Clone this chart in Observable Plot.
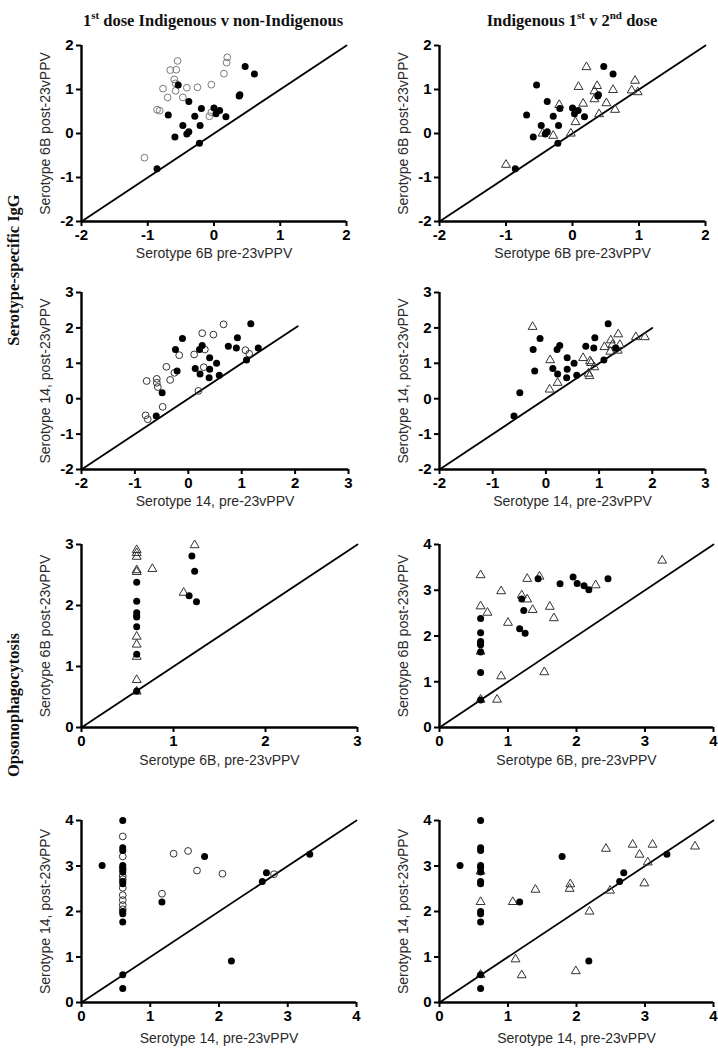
<!DOCTYPE html>
<html>
<head>
<meta charset="utf-8">
<script src="https://cdn.jsdelivr.net/npm/d3@7"></script>
<script src="https://cdn.jsdelivr.net/npm/@observablehq/plot@0.6"></script>
<style>
  html, body { margin: 0; padding: 0; background: #fff; }
  body { width: 718px; height: 1049px; position: relative; overflow: hidden; font-family: Arial, "Liberation Sans", sans-serif; }
  .title { position: absolute; top: 9px; transform: translateX(-50%); white-space: nowrap;
           font-family: "Liberation Serif", "Times New Roman", serif; font-weight: bold; font-size: 16.5px; color: #111; }
  .title sup { font-size: 11px; }
  .side { position: absolute; left: 14px; white-space: nowrap; transform: translate(-50%, -50%) rotate(-90deg);
          font-family: "Liberation Serif", "Times New Roman", serif; font-weight: bold; font-size: 16.5px; color: #111; }
</style>
</head>
<body>
<div class="title" style="left:213px">1<sup>st</sup> dose Indigenous v non-Indigenous</div>
<div class="title" style="left:572px">Indigenous 1<sup>st</sup> v 2<sup>nd</sup> dose</div>
<div class="side" style="top:270px">Serotype-specific IgG</div>
<div class="side" style="top:705px">Opsonophagocytosis</div>
<script>
// ---------- Data (log-scale values) ----------
// Serotype 6B IgG
const ind1_6B_IgG_pre  = [0.47, 0.61, -0.54, -0.38, -0.69, 0.38, 0.39, 0.00, -0.19, 0.085, 0.03, 0.18, -0.29, -0.47, -0.21, -0.59, -0.38, -0.41, -0.22, -0.86];
const ind1_6B_IgG_post = [1.52, 1.35, 1.10, 0.73, 0.42, 0.85, 0.88, 0.58, 0.57, 0.52, 0.45, 0.38, 0.39, 0.18, 0.18, -0.08, 0.04, -0.01, -0.22, -0.80];
const non_6B_IgG_pre   = [-0.55, 0.20, 0.19, -0.66, -0.57, 0.15, -0.60, -0.58, -0.58, -0.77, -0.41, -0.25, -0.04, -0.70, -0.47, -0.86, -0.82, -0.07, -0.04, -1.05];
const non_6B_IgG_post  = [1.65, 1.73, 1.61, 1.44, 1.45, 1.36, 1.23, 1.14, 0.97, 1.02, 1.04, 1.05, 1.11, 0.82, 0.82, 0.54, 0.52, 0.39, 0.48, -0.55];
const ind2_6B_IgG_pre  = [0.21, 0.94, 0.09, 0.37, 0.33, 0.61, 0.89, 0.98, 0.33, 0.51, 0.16, -0.20, 0.64, 0.40, 0.045, -0.45, -0.29, -0.025, -1.00];
const ind2_6B_IgG_post = [1.51, 1.20, 1.06, 1.08, 0.96, 0.99, 0.98, 0.94, 0.78, 0.69, 0.68, 0.65, 0.54, 0.44, 0.26, 0.00, -0.05, 0.00, -0.71];

// Serotype 14 IgG
const ind1_14_IgG_pre  = [1.17, -0.11, 0.92, 0.26, -0.24, 0.21, 0.75, 0.90, 1.31, 0.40, 0.53, 0.13, 0.40, -0.21, 0.22, 0.58, 0.39, 1.09, -0.49, -0.60];
const ind1_14_IgG_post = [2.12, 1.70, 1.72, 1.50, 1.39, 1.39, 1.48, 1.43, 1.43, 1.16, 1.00, 0.85, 0.83, 0.78, 0.70, 0.66, 0.59, 1.09, 0.17, -0.49];
const non_14_IgG_pre   = [0.66, 0.26, 0.47, 0.31, 0.11, -0.17, 1.07, 1.14, -0.41, 0.29, -0.26, -0.34, -0.78, -0.59, -0.59, -0.57, -0.48, 0.19, -0.80, -0.76];
const non_14_IgG_post  = [2.10, 1.85, 1.81, 1.39, 1.25, 1.23, 1.37, 1.27, 0.90, 0.89, 0.73, 0.53, 0.50, 0.56, 0.45, 0.33, -0.23, 0.22, -0.47, -0.58];
const ind2_14_IgG_pre  = [-0.25, 0.08, 0.07, 0.70, 0.83, 0.85, 0.80, 0.82, 0.91, 0.22, 1.10, 1.22, 1.36, 1.25, 1.39, 1.21, 1.35, 1.69, 1.86];
const ind2_14_IgG_post = [2.03, 1.09, 0.26, 1.15, 1.06, 1.01, 0.71, 0.64, 0.89, 0.45, 1.46, 1.65, 1.82, 1.52, 1.52, 1.33, 1.36, 1.74, 1.74];

// Serotype 6B opsonophagocytosis
const ind1_6B_OPA_pre  = [0.6, 0.6, 0.6, 0.6, 0.6, 0.6, 0.6, 0.6, 1.20, 1.23, 1.17, 1.25, 1.44, 1.76, 1.95, 2.01, 2.11, 2.18, 2.46];
const ind1_6B_OPA_post = [2.38, 2.07, 1.88, 1.83, 1.81, 1.65, 1.20, 0.60, 2.81, 2.56, 2.16, 2.06, 3.25, 3.14, 3.29, 3.15, 3.10, 3.01, 3.25];
const non_6B_OPA_pre   = [0.6, 0.6, 0.6, 0.6, 0.6, 0.77, 1.23, 1.11, 0.6, 0.6, 0.6, 0.6, 0.6];
const non_6B_OPA_post  = [2.91, 2.86, 2.80, 2.58, 2.55, 2.60, 2.99, 2.21, 1.49, 1.36, 1.16, 0.78, 0.59];
const ind2_6B_OPA_pre  = [0.6, 0.6, 0.70, 0.90, 1.00, 1.20, 1.28, 1.28, 1.46, 1.36, 1.61, 1.67, 2.28, 3.25, 0.90, 1.53, 0.84, 0.6, 0.6];
const ind2_6B_OPA_post = [3.33, 2.65, 2.51, 2.98, 2.29, 2.89, 3.25, 2.80, 3.30, 2.57, 2.64, 2.39, 3.11, 3.65, 1.12, 1.21, 0.61, 0.61, 1.66];

// Serotype 14 opsonophagocytosis
const ind1_14_OPA_pre  = [0.6, 0.6, 0.6, 0.6, 0.6, 0.6, 0.6, 0.6, 0.6, 0.6, 0.6, 0.6, 0.6, 0.30, 1.17, 1.79, 2.18, 2.63, 2.69, 3.32];
const ind1_14_OPA_post = [4.00, 3.40, 3.34, 3.01, 2.96, 2.87, 2.66, 2.61, 2.00, 1.95, 1.77, 0.61, 0.31, 3.01, 2.21, 3.21, 0.91, 2.66, 2.85, 3.26];
const non_14_OPA_pre   = [0.6, 0.6, 0.6, 0.6, 0.6, 0.6, 0.6, 0.6, 0.6, 0.6, 1.17, 1.34, 1.55, 1.68, 2.05, 2.80];
const non_14_OPA_post  = [3.65, 3.21, 2.92, 2.78, 2.71, 2.52, 2.36, 2.25, 2.14, 2.05, 2.39, 3.27, 3.33, 2.90, 2.83, 2.82];
const ind2_14_OPA_pre  = [0.6, 0.6, 0.6, 1.07, 1.11, 1.20, 1.40, 1.91, 1.90, 2.19, 1.99, 2.43, 2.49, 2.82, 2.92, 3.11, 3.04, 2.99, 3.73];
const ind2_14_OPA_post = [2.88, 2.21, 0.61, 2.21, 0.95, 0.60, 2.48, 2.60, 2.50, 2.00, 0.69, 3.38, 2.46, 3.47, 3.25, 3.47, 3.08, 2.62, 3.43];

// Axis ticks and identity-line extents
const ticksIgG6B = [-2, -1, 0, 1, 2];
const ticksIgG14 = [-2, -1, 0, 1, 2, 3];
const ticksOPA3  = [0, 1, 2, 3];
const ticksOPA4  = [0, 1, 2, 3, 4];
const diagIgG6B  = [-2, 2];
const diagIgG14L = [-2, 2.05];
const diagIgG14R = [-2, 2];
const diagOPA3   = [0, 3];
const diagOPA4   = [0, 4];

// ---------- Drawing ----------
const pts = (xs, ys) => xs.map((x, i) => ({x, y: ys[i]}));
const FILLED = {symbol: "circle", r: 3.5, fill: "#000", stroke: "none", sw: 0};
const OPEN_LIGHT = {symbol: "circle", r: 3.4, fill: "none", stroke: "#7a7a7a", sw: 1};
const OPEN_DARK = {symbol: "circle", r: 3.4, fill: "none", stroke: "#333", sw: 1};
const TRI = {symbol: "triangle", r: 3.3, fill: "none", stroke: "#333", sw: 1};

function panel(cfg) {
  const {left, top, w, h, xDomain, yDomain, xTicks, yTicks, diag, series, xLabel, yLabel, xlOff} = cfg;
  const ml = 60, mr = 14, mt = 14, mb = 46;
  const marks = [
    Plot.line(diag.map(v => ({x: v, y: v})), {x: "x", y: "y", stroke: "#000", strokeWidth: 1.8}),
    ...series.map(s => Plot.dot(s.data, {
      x: "x", y: "y", symbol: s.style.symbol, r: s.style.r, fill: s.style.fill,
      stroke: s.style.stroke, strokeWidth: s.style.sw,
      filter: d => d.y <= yDomain[1] && d.x <= xDomain[1]
    })),
    Plot.ruleX([xDomain[0]], {stroke: "#000", strokeWidth: 2.4}),
    Plot.ruleY([yDomain[0]], {stroke: "#000", strokeWidth: 2.4}),
    Plot.axisX({ticks: xTicks, tickSize: 5, tickPadding: 3, strokeWidth: 2, tickFormat: d => `${d}`,
                fontSize: 15, fontWeight: "bold", fill: "#000", label: null}),
    Plot.axisY({ticks: yTicks, tickSize: 5, tickPadding: 3, strokeWidth: 2, tickFormat: d => `${d}`,
                fontSize: 15, fontWeight: "bold", fill: "#000", label: null}),
    Plot.text([xLabel], {frameAnchor: "bottom", dy: xlOff, textAnchor: "middle", lineAnchor: "middle",
                         text: d => d, fontSize: 14, fill: "#2a2a2a"}),
    Plot.text([yLabel], {frameAnchor: "left", dx: -36, rotate: -90, textAnchor: "middle", lineAnchor: "middle",
                         text: d => d, fontSize: 14, fill: "#2a2a2a"})
  ];
  const chart = Plot.plot({
    width: ml + w + mr, height: mt + h + mb,
    marginLeft: ml, marginRight: mr, marginTop: mt, marginBottom: mb,
    x: {domain: xDomain}, y: {domain: yDomain},
    style: {fontFamily: "Arial, 'Liberation Sans', sans-serif", background: "none", overflow: "visible", color: "#000"},
    marks
  });
  chart.style.position = "absolute";
  chart.style.left = (left - ml) + "px";
  chart.style.top = (top - mt) + "px";
  document.body.appendChild(chart);
}

const lab6B  = ["Serotype 6B pre-23vPPV", "Serotype 6B post-23vPPV"];
const lab14  = ["Serotype 14, pre-23vPPV", "Serotype 14, post-23vPPV"];
const lab6BO = ["Serotype 6B, pre-23vPPV", "Serotype 6B post-23vPPV"];

// Row 1
panel({left: 81, top: 45, w: 265, h: 176, xDomain: [-2, 2], yDomain: [-2, 2], xTicks: ticksIgG6B, yTicks: ticksIgG6B, diag: diagIgG6B, xlOff: 32,
  series: [{data: pts(non_6B_IgG_pre, non_6B_IgG_post), style: OPEN_LIGHT}, {data: pts(ind1_6B_IgG_pre, ind1_6B_IgG_post), style: FILLED}],
  xLabel: lab6B[0], yLabel: lab6B[1]});
panel({left: 439, top: 45, w: 266, h: 176, xDomain: [-2, 2], yDomain: [-2, 2], xTicks: ticksIgG6B, yTicks: ticksIgG6B, diag: diagIgG6B, xlOff: 32,
  series: [{data: pts(ind2_6B_IgG_pre, ind2_6B_IgG_post), style: TRI}, {data: pts(ind1_6B_IgG_pre, ind1_6B_IgG_post), style: FILLED}],
  xLabel: lab6B[0], yLabel: lab6B[1]});
// Row 2
panel({left: 81, top: 292, w: 267, h: 177, xDomain: [-2, 3], yDomain: [-2, 3], xTicks: ticksIgG14, yTicks: ticksIgG14, diag: diagIgG14L, xlOff: 32,
  series: [{data: pts(non_14_IgG_pre, non_14_IgG_post), style: OPEN_DARK}, {data: pts(ind1_14_IgG_pre, ind1_14_IgG_post), style: FILLED}],
  xLabel: lab14[0], yLabel: lab14[1]});
panel({left: 439, top: 292, w: 266, h: 177, xDomain: [-2, 3], yDomain: [-2, 3], xTicks: ticksIgG14, yTicks: ticksIgG14, diag: diagIgG14R, xlOff: 32,
  series: [{data: pts(ind2_14_IgG_pre, ind2_14_IgG_post), style: TRI}, {data: pts(ind1_14_IgG_pre, ind1_14_IgG_post), style: FILLED}],
  xLabel: lab14[0], yLabel: lab14[1]});
// Row 3
panel({left: 81, top: 544, w: 276, h: 183, xDomain: [0, 3], yDomain: [0, 3], xTicks: ticksOPA3, yTicks: ticksOPA3, diag: diagOPA3, xlOff: 33,
  series: [{data: pts(non_6B_OPA_pre, non_6B_OPA_post), style: TRI}, {data: pts(ind1_6B_OPA_pre, ind1_6B_OPA_post), style: FILLED}],
  xLabel: lab6BO[0], yLabel: lab6BO[1]});
panel({left: 439, top: 544, w: 274, h: 183, xDomain: [0, 4], yDomain: [0, 4], xTicks: ticksOPA4, yTicks: ticksOPA4, diag: diagOPA4, xlOff: 33,
  series: [{data: pts(ind2_6B_OPA_pre, ind2_6B_OPA_post), style: TRI}, {data: pts(ind1_6B_OPA_pre, ind1_6B_OPA_post), style: FILLED}],
  xLabel: lab6BO[0], yLabel: lab6BO[1]});
// Row 4
panel({left: 81, top: 820, w: 275, h: 182, xDomain: [0, 4], yDomain: [0, 4], xTicks: ticksOPA4, yTicks: ticksOPA4, diag: diagOPA4, xlOff: 36,
  series: [{data: pts(non_14_OPA_pre, non_14_OPA_post), style: OPEN_DARK}, {data: pts(ind1_14_OPA_pre, ind1_14_OPA_post), style: FILLED}],
  xLabel: lab14[0], yLabel: lab14[1]});
panel({left: 439, top: 820, w: 274, h: 182, xDomain: [0, 4], yDomain: [0, 4], xTicks: ticksOPA4, yTicks: ticksOPA4, diag: diagOPA4, xlOff: 36,
  series: [{data: pts(ind2_14_OPA_pre, ind2_14_OPA_post), style: TRI}, {data: pts(ind1_14_OPA_pre, ind1_14_OPA_post), style: FILLED}],
  xLabel: lab14[0], yLabel: lab14[1]});
</script>
</body>
</html>
